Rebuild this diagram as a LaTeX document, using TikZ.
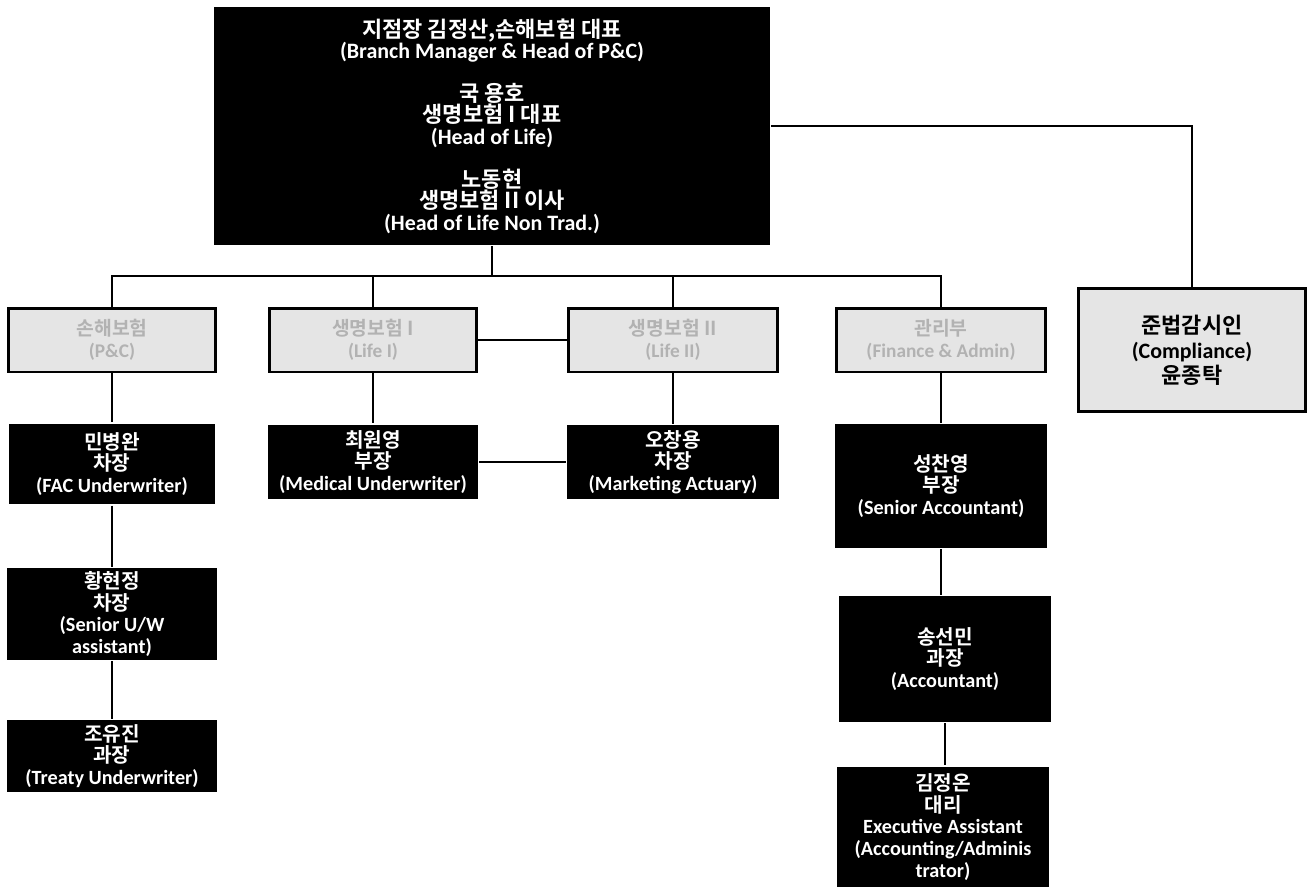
\documentclass[tikz,border=0pt]{standalone}
\usepackage{fontspec}
\setmainfont{Carlito}
\newfontfamily\kr{Noto Sans CJK KR}[BoldFont={Noto Sans CJK KR Bold}]
\begin{document}
\begin{tikzpicture}[x=0.02cm,y=-0.02cm,line width=1.3pt]
\tikzstyle{staff}=[fill=black, text=white, align=center, inner sep=0pt,
  font=\bfseries\fontsize{11.5}{12.3}\selectfont]
\tikzstyle{dept}=[draw, line width=1.7pt, fill=gray!20, text=gray!60, align=center,
  inner sep=0pt, minimum height=1.28cm, font=\bfseries\fontsize{11}{12.5}\selectfont]
\tikzstyle{audit}=[draw, line width=1.7pt, fill=gray!20, text=black, align=center,
  inner sep=0pt, font=\bfseries\fontsize{12.5}{14.2}\selectfont]

\useasboundingbox (0,0) rectangle (1309,892);

% top management
\node[staff, minimum width=11.12cm, minimum height=4.76cm,
  font=\bfseries\fontsize{12.5}{12.2}\selectfont] (head) at (492,126)
  {{\kr 지점장 김정산,손해보험 대표}\\(Branch Manager \& Head of P\&C)\\[11pt]
   {\kr 국 용호}\\{\kr 생명보험 I 대표}\\(Head of Life)\\[11pt]
   {\kr 노동현}\\{\kr 생명보험 II 이사}\\(Head of Life Non Trad.)};
\node[audit, minimum width=4.54cm, minimum height=2.48cm] (comp) at (1192,350)
  {{\kr 준법감시인}\\(Compliance)\\{\kr 윤종탁}};
\coordinate (bus) at (492,276);

% departments
\node[dept, minimum width=4.16cm] (pc) at (112,340) {{\kr 손해보험}\\(P\&C)};
\node[dept, minimum width=4.16cm] (life1) at (373,340) {{\kr 생명보험 I}\\(Life I)};
\node[dept, minimum width=4.2cm] (life2) at (673,340) {{\kr 생명보험 II}\\(Life II)};
\node[dept, minimum width=4.18cm] (fin) at (941,340) {{\kr 관리부}\\(Finance \& Admin)};

% staff
\node[staff, minimum width=4.14cm, minimum height=1.62cm] (min) at (112,464)
  {{\kr 민병완}\\{\kr 차장}\\(FAC Underwriter)};
\node[staff, minimum width=4.22cm, minimum height=1.84cm] (hwang) at (112,614)
  {{\kr 황현정}\\{\kr 차장}\\(Senior U/W\\assistant)};
\node[staff, minimum width=4.22cm, minimum height=1.44cm] (jo) at (112,756)
  {{\kr 조유진}\\{\kr 과장}\\(Treaty Underwriter)};
\node[staff, minimum width=4.2cm, minimum height=1.5cm] (choi) at (373,462)
  {{\kr 최원영}\\{\kr 부장}\\(Medical Underwriter)};
\node[staff, minimum width=4.24cm, minimum height=1.48cm] (oh) at (673,462)
  {{\kr 오창용}\\{\kr 차장}\\(Marketing Actuary)};
\node[staff, minimum width=4.24cm, minimum height=2.48cm] (sung) at (941,486)
  {{\kr 성찬영}\\{\kr 부장}\\(Senior Accountant)};
\node[staff, minimum width=4.24cm, minimum height=2.52cm] (song) at (945,659)
  {{\kr 송선민}\\{\kr 과장}\\(Accountant)};
\node[staff, minimum width=4.26cm, minimum height=2.42cm] (kim) at (943,827)
  {{\kr 김정온}\\{\kr 대리}\\Executive Assistant\\(Accounting/Adminis\\trator)};

% lines
\draw (head.south) -- (bus);
\draw (bus) -| (pc.north);
\draw (bus) -| (life1.north);
\draw (bus) -| (life2.north);
\draw (bus) -| (fin.north);
\draw (head.east) -| (comp.north);
\draw (life1) -- (life2);
\draw (choi) -- (oh);
\draw (pc) -- (min);
\draw (min) -- (hwang);
\draw (hwang) -- (jo);
\draw (life1) -- (choi);
\draw (life2) -- (oh);
\draw (fin.south) -- (fin.south |- sung.north);
\draw (sung.south) -- (sung.south |- song.north);
\draw (song.south) -- (song.south |- kim.north);
\end{tikzpicture}
\end{document}
